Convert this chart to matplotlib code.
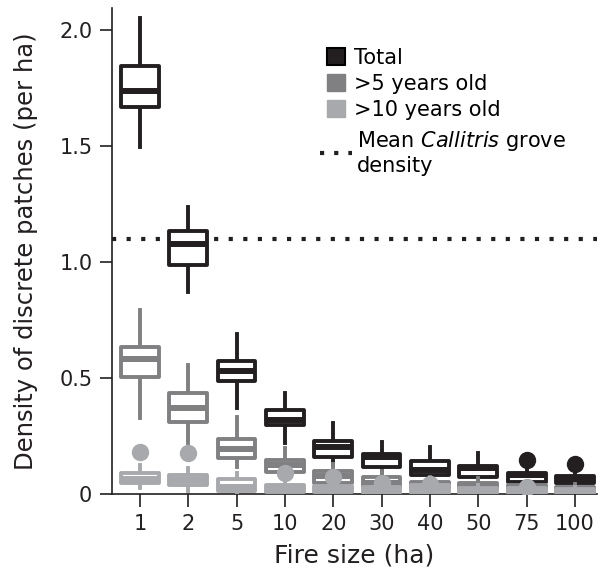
import matplotlib.pyplot as plt
from matplotlib.patches import Patch, Rectangle
from matplotlib.lines import Line2D
from matplotlib.legend_handler import HandlerPatch
import numpy as np

fire_sizes = ['1', '2', '5', '10', '20', '30', '40', '50', '75', '100']

# box statistics: whislo, q1, med, q3, whishi
total_whislo = [1.495, 0.871, 0.370, 0.220, 0.120, 0.073, 0.050, 0.040, 0.020, 0.020]
total_q1     = [1.668, 0.987, 0.487, 0.297, 0.160, 0.116, 0.082, 0.073, 0.052, 0.047]
total_med    = [1.737, 1.078, 0.530, 0.319, 0.203, 0.160, 0.103, 0.112, 0.082, 0.065]
total_q3     = [1.845, 1.134, 0.573, 0.362, 0.228, 0.172, 0.142, 0.121, 0.090, 0.078]
total_whishi = [2.050, 1.237, 0.690, 0.435, 0.306, 0.224, 0.203, 0.177, 0.116, 0.095]
total_fliers = [[], [], [], [], [], [], [], [], [0.147], [0.130]]

old5_whislo = [0.328, 0.220, 0.116, 0.060, 0.020, 0.010, 0.008, 0.008, 0.005, 0.005]
old5_q1     = [0.504, 0.310, 0.155, 0.095, 0.047, 0.030, 0.022, 0.020, 0.015, 0.010]
old5_med    = [0.582, 0.370, 0.194, 0.125, 0.080, 0.050, 0.035, 0.032, 0.025, 0.020]
old5_q3     = [0.634, 0.435, 0.237, 0.147, 0.099, 0.073, 0.052, 0.048, 0.040, 0.030]
old5_whishi = [0.793, 0.556, 0.332, 0.200, 0.130, 0.100, 0.075, 0.068, 0.055, 0.045]
old5_fliers = [[], [], [], [], [], [], [], [], [], []]

old10_whislo = [0.025, 0.015, 0.005, 0.003, 0.002, 0.002, 0.002, 0.002, 0.001, 0.001]
old10_q1     = [0.047, 0.040, 0.015, 0.010, 0.008, 0.007, 0.006, 0.006, 0.005, 0.004]
old10_med    = [0.065, 0.060, 0.030, 0.022, 0.018, 0.016, 0.025, 0.014, 0.012, 0.010]
old10_q3     = [0.090, 0.082, 0.065, 0.040, 0.035, 0.030, 0.040, 0.028, 0.025, 0.022]
old10_whishi = [0.125, 0.115, 0.090, 0.060, 0.050, 0.045, 0.045, 0.040, 0.035, 0.030]
old10_fliers = [[0.180], [0.177], [], [0.090], [0.075], [0.050], [0.045], [], [0.030], []]

grove_density = 1.1

c_total = '#231f20'
c_old5 = '#808082'
c_old10 = '#a7a9ac'


def make_stats(lo, q1, med, q3, hi, fl):
    return [dict(whislo=a, q1=b, med=c, q3=d, whishi=e, fliers=f)
            for a, b, c, d, e, f in zip(lo, q1, med, q3, hi, fl)]


def square_patch(legend, orig_handle, xdescent, ydescent, width, height, fontsize):
    s = 12.5
    return Rectangle((-xdescent + width - s - 3, -ydescent + (height - s) / 2), s, s)


series = [
    (make_stats(total_whislo, total_q1, total_med, total_q3, total_whishi, total_fliers), c_total),
    (make_stats(old5_whislo, old5_q1, old5_med, old5_q3, old5_whishi, old5_fliers), c_old5),
    (make_stats(old10_whislo, old10_q1, old10_med, old10_q3, old10_whishi, old10_fliers), c_old10),
]

fig = plt.figure(figsize=(6.01, 5.72), dpi=100)
ax = fig.add_axes([0.186, 0.136, 0.807, 0.850])

pos = np.arange(len(fire_sizes))
for k, (stats, col) in enumerate(series):
    z = 2 + k
    ax.bxp(stats, positions=pos, widths=0.78, patch_artist=True, showcaps=False,
           boxprops=dict(facecolor='white', edgecolor=col, lw=2.8, joinstyle='round', zorder=z),
           whiskerprops=dict(color=col, lw=2.8, zorder=z - 0.1),
           medianprops=dict(color=col, lw=4.3, solid_capstyle='butt', zorder=z),
           flierprops=dict(marker='o', markerfacecolor=col, markeredgecolor=col,
                           markersize=11.5, zorder=z))

ax.axhline(grove_density, color=c_total, ls=(0, (1, 2.5)), lw=3, zorder=1)

ax.set_xlim(-0.58, 9.45)
ax.set_ylim(0, 2.095)
ax.set_xticks(pos)
ax.set_xticklabels(fire_sizes)
ax.set_yticks([0, 0.5, 1.0, 1.5, 2.0])
ax.set_yticklabels(['0', '0.5', '1.0', '1.5', '2.0'])
ax.tick_params(labelsize=15, length=9, width=1.2, pad=5, colors='#231f20')
ax.set_xlabel('Fire size (ha)', fontsize=18, color='#231f20', labelpad=7)
ax.set_ylabel('Density of discrete patches (per ha)', fontsize=17.5, color='#231f20')
ax.yaxis.set_label_coords(-0.153, 0.5)
ax.spines['top'].set_visible(False)
ax.spines['right'].set_visible(False)
for s in ['left', 'bottom']:
    ax.spines[s].set_linewidth(1.2)
    ax.spines[s].set_color('#231f20')

# legend: three age classes, then the grove density line a bit lower
handles = [Patch(facecolor=c_total, edgecolor='black', lw=1.5),
           Patch(facecolor=c_old5, edgecolor=c_old5),
           Patch(facecolor=c_old10, edgecolor=c_old10)]
labels = ['Total', '>5 years old', '>10 years old']
leg1 = ax.legend(handles, labels, loc='upper left', bbox_to_anchor=(0.429, 0.918),
                 frameon=False, fontsize=15, handlelength=1.4, handleheight=0.7,
                 handletextpad=0.25, labelspacing=0.28, borderaxespad=0, borderpad=0,
                 handler_map={Patch: HandlerPatch(patch_func=square_patch)})
ax.add_artist(leg1)
ax.legend([Line2D([], [], color=c_total, ls=(0, (1, 2.4)), lw=3)],
          ['Mean $\\it{Callitris}$ grove\ndensity'],
          loc='upper left', bbox_to_anchor=(0.429, 0.751),
          frameon=False, fontsize=15, handlelength=1.54, handletextpad=0.24,
          borderaxespad=0, borderpad=0)

plt.savefig('out.png', dpi=100)
print('Saved: out.png')
